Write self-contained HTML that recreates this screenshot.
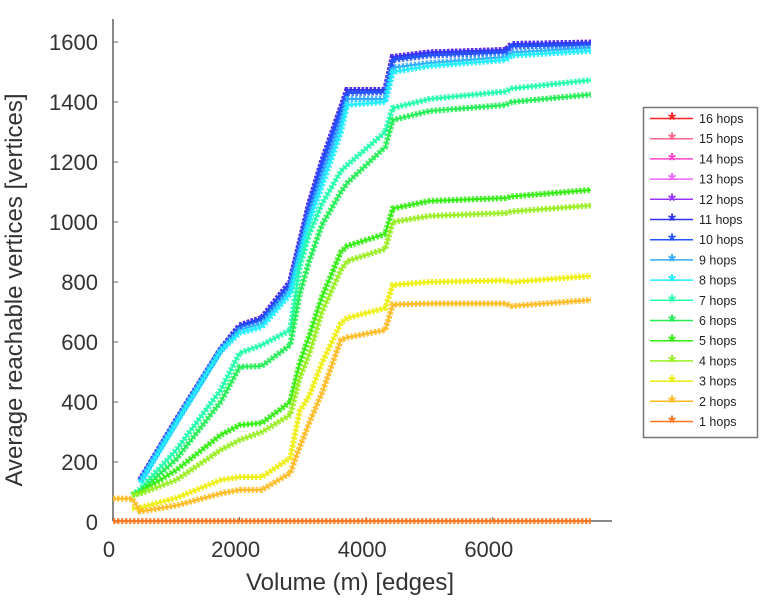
<!DOCTYPE html>
<html><head><meta charset="utf-8"><style>
html,body{margin:0;padding:0;background:#fff;}
svg{display:block;font-family:"Liberation Sans",sans-serif;}
</style></head><body>
<svg id="chart" width="766" height="600" viewBox="0 0 766 600">
<g id="axes"></g>
<g id="series"></g>
<g id="legend"></g>
<text x="350" y="590" font-size="24" fill="#333" text-anchor="middle">Volume (m) [edges]</text>
<text transform="translate(22,290) rotate(-90)" font-size="24" fill="#333" text-anchor="middle">Average reachable vertices [vertices]</text>
</svg>
<script>
const volumes = [0,300,430,1000,1700,2000,2350,2800,2950,3100,3300,3600,3700,4300,4420,5000,6200,6300,7550];
const hops1 = [3,3,3,3,3,3,3,3,3,3,3,3,3,3,3,3,3,3,3];
const hops2 = [78,78,35,55,95,107,107,163,250,330,430,607,615,640,725,728,728,720,740];
const hops3 = [null,45,48,80,140,150,150,213,370,420,530,663,680,713,790,800,805,800,820];
const hops4 = [null,90,95,140,240,273,300,357,480,560,700,840,870,910,1000,1020,1030,1035,1055];
const hops5 = [null,90,100,173,290,323,330,400,530,620,750,900,920,960,1045,1070,1080,1085,1107];
const hops6 = [null,90,100,210,400,517,520,590,760,870,990,1100,1130,1250,1340,1370,1390,1400,1425];
const hops7 = [null,90,110,240,440,563,590,640,850,960,1060,1170,1190,1300,1380,1410,1435,1445,1473];
const hops8 = [null,null,130,330,570,630,650,760,880,1000,1120,1300,1390,1400,1500,1520,1540,1555,1570];
const hops9 = [null,null,135,335,572,640,660,775,900,1020,1150,1330,1410,1410,1515,1530,1550,1565,1580];
const hops10 = [null,null,138,338,574,650,675,790,920,1050,1190,1370,1430,1432,1540,1555,1565,1585,1590];
const hops11 = [null,null,140,340,575,655,680,800,930,1060,1200,1380,1440,1440,1550,1565,1573,1593,1597];
const hops12 = [null,null,140,340,575,655,680,800,930,1060,1200,1380,1440,1440,1550,1565,1573,1593,1598];
const hops13 = hops12, hops14 = hops12, hops15 = hops12, hops16 = hops12;
const seriesNames = ["16 hops","15 hops","14 hops","13 hops","12 hops","11 hops","10 hops","9 hops","8 hops","7 hops","6 hops","5 hops","4 hops","3 hops","2 hops","1 hops"];
const seriesData = [hops16,hops15,hops14,hops13,hops12,hops11,hops10,hops9,hops8,hops7,hops6,hops5,hops4,hops3,hops2,hops1];
const xTicks = [0,2000,4000,6000];
const yTicks = [0,200,400,600,800,1000,1200,1400,1600];

const colors = ["#ff2020","#ff6688","#ff44cc","#ee66ff","#9933ff","#3333ee","#2255ff","#33aaff","#22eeff","#22ffaa","#22ee55","#33ee11","#99ee22","#eeee11","#ffbb22","#ff7722"];
const NS="http://www.w3.org/2000/svg";
const X = v => 113 + v*0.0633;
const Y = v => 522 - v*0.3;
function mk(tag, attrs, parent){const e=document.createElementNS(NS,tag);for(const k in attrs)e.setAttribute(k,attrs[k]);parent.appendChild(e);return e;}
const axes=document.getElementById('axes');
let e=mk('line',{x1:113,y1:19,x2:113,y2:521,stroke:'#888','stroke-width':2},axes);


e=mk('line',{x1:113,y1:521,x2:612,y2:521,stroke:'#888','stroke-width':2},axes);


yTicks.forEach(t=>{
  const tk=mk('line',{x1:113,x2:118,y1:Y(t),y2:Y(t),stroke:'#666','stroke-width':1},axes);
  
  
  const tx=mk('text',{x:98,y:Y(t)+8,'font-size':22,fill:'#333','text-anchor':'end'},axes);
  tx.textContent=t;
  
  
});
xTicks.forEach(t=>{
  const tk=mk('line',{x1:X(t),x2:X(t),y1:521,y2:517,stroke:'#666','stroke-width':1},axes);
  
  
  const tx=mk('text',{x:X(t)-4,y:557,'font-size':22,fill:'#333','text-anchor':'middle'},axes);
  tx.textContent=t;
  
  
});
const sg=document.getElementById('series');
seriesData.forEach((arr,i)=>{
  let d='';
  arr.forEach((v,j)=>{ if(v===null) return; d += (d?'L':'M')+X(volumes[j]).toFixed(1)+' '+Y(v).toFixed(1); });
  const g=mk('g',{},sg);
  
  
  const p=mk('path',{d:d,fill:'none',stroke:colors[i],'stroke-width':2},g);
  
  
  const m=mk('path',{d:d,fill:'none',stroke:colors[i],'stroke-width':6,'stroke-dasharray':'2.5 1.5','stroke-opacity':0.85},g);
  
  
});
const lg=document.getElementById('legend');
e=mk('rect',{x:643.5,y:107.5,width:114,height:330,fill:'#fff',stroke:'#777','stroke-width':1.5},lg);


seriesNames.forEach((n,i)=>{
  const y=118.5+i*20.2;
  const g=mk('g',{},lg);
  
  
  mk('line',{x1:650,x2:693,y1:y,y2:y,stroke:colors[i],'stroke-width':1.5},g);
  const s=mk('text',{x:672,y:y+8,'font-size':20,fill:colors[i],'text-anchor':'middle','font-weight':'bold'},g);
  s.textContent='*';
  const t=mk('text',{x:699,y:y+4.5,'font-size':12.5,fill:'#222'},g);
  t.textContent=n;
});
</script>
</body></html>
